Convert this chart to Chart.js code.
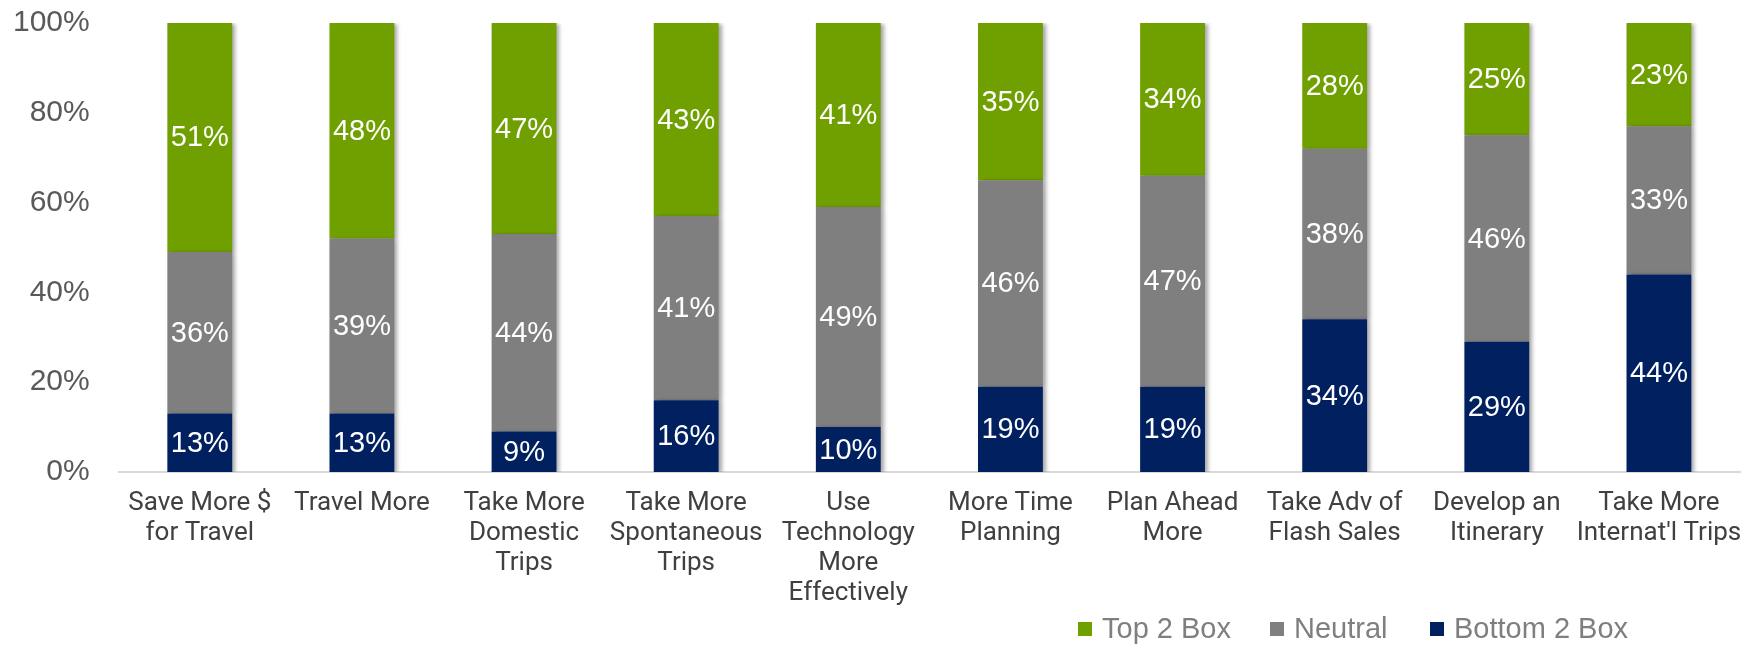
<!DOCTYPE html>
<html>
<head>
<meta charset="utf-8">
<title>Travel intentions</title>
<script src="https://cdn.jsdelivr.net/npm/chart.js@4/dist/chart.umd.min.js"></script>
<style>
  body { margin: 0; background: #fff; }
  #wrap { position: relative; width: 1749px; height: 649px; }
  .item {
    position: absolute; top: 612px; display: flex; align-items: center;
    font: 29px "Liberation Sans", Arial, sans-serif; color: #7f7f7f;
  }
  .swatch { width: 14px; height: 14px; margin-right: 10px; }
</style>
</head>
<body>
<div id="wrap">
  <canvas id="chart"></canvas>
</div>
<script>
const categories = [
  ['Save More $', 'for Travel'],
  ['Travel More'],
  ['Take More', 'Domestic', 'Trips'],
  ['Take More', 'Spontaneous', 'Trips'],
  ['Use', 'Technology', 'More', 'Effectively'],
  ['More Time', 'Planning'],
  ['Plan Ahead', 'More'],
  ['Take Adv of', 'Flash Sales'],
  ['Develop an', 'Itinerary'],
  ['Take More', "Internat'l Trips"],
];
const bottom2Box = [13, 13, 9, 16, 10, 19, 19, 34, 29, 44];
const neutral = [36, 39, 44, 41, 49, 46, 47, 38, 46, 33];
const top2Box = [51, 48, 47, 43, 41, 35, 34, 28, 25, 23];
const yTicks = [0, 20, 40, 60, 80, 100];

const datasets = [
  { label: 'Bottom 2 Box', data: bottom2Box, backgroundColor: '#002060' },
  { label: 'Neutral', data: neutral, backgroundColor: '#7f7f7f' },
  { label: 'Top 2 Box', data: top2Box, backgroundColor: '#70a000' },
];
// legend left edges, in legend order (top to bottom of the stack)
const legendLeft = [1078, 1270, 1430];

// white value labels centred in each segment
const valueLabels = {
  id: 'valueLabels',
  afterDatasetsDraw(chart) {
    const ctx = chart.ctx;
    ctx.save();
    ctx.fillStyle = '#ffffff';
    ctx.font = '29px "Liberation Sans", Arial, sans-serif';
    ctx.textAlign = 'center';
    ctx.textBaseline = 'middle';
    chart.data.datasets.forEach((ds, i) => {
      chart.getDatasetMeta(i).data.forEach((bar, j) => {
        const mid = (bar.y + bar.base) / 2;
        ctx.fillText(ds.data[j] + '%', bar.x, mid + 1);
      });
    });
    ctx.restore();
  },
};

// soft shadow to the right of the bars
const barShadow = {
  id: 'barShadow',
  beforeDatasetsDraw(chart) {
    const ctx = chart.ctx;
    ctx.save();
    ctx.shadowColor = 'rgba(0,0,0,0.35)';
    ctx.shadowBlur = 4;
    ctx.shadowOffsetX = 3;
    ctx.shadowOffsetY = 1;
  },
  afterDatasetsDraw(chart) {
    chart.ctx.restore();
  },
};

const chart = new Chart(document.getElementById('chart'), {
  type: 'bar',
  data: { labels: categories, datasets },
  options: {
    responsive: true,
    maintainAspectRatio: false,
    animation: false,
    layout: { padding: { top: 23, left: -16, right: 9, bottom: 23 } },
    datasets: { bar: { barPercentage: 0.8, categoryPercentage: 0.5 } },
    plugins: {
      legend: { display: false },
      tooltip: { enabled: false },
    },
    scales: {
      x: {
        stacked: true,
        grid: { display: false, drawTicks: false },
        border: { display: true, color: '#d9d9d9', width: 2 },
        afterFit(axis) {
          // let the last label run into the right margin
          axis.paddingRight = 0;
        },
        ticks: {
          maxRotation: 0,
          minRotation: 0,
          autoSkip: false,
          padding: 17,
          color: '#404040',
          font: { family: 'Roboto, "Liberation Sans", Arial, sans-serif', size: 26, lineHeight: 1.154 },
        },
      },
      y: {
        stacked: true,
        min: 0,
        max: 100,
        grid: { display: false, drawTicks: false },
        border: { display: false },
        afterBuildTicks(axis) {
          axis.ticks = yTicks.map((v) => ({ value: v }));
        },
        afterFit(axis) {
          // the tick padding is only meant to be horizontal
          axis.paddingTop = 0;
          axis.paddingBottom = 0;
        },
        ticks: {
          padding: 29,
          color: '#595959',
          font: { family: '"Liberation Sans", Arial, sans-serif', size: 30 },
          callback: (v) => v + '%',
        },
      },
    },
  },
  plugins: [barShadow, valueLabels],
});

const wrap = document.getElementById('wrap');
datasets.slice().reverse().forEach((ds, i) => {
  const item = document.createElement('div');
  item.className = 'item';
  item.style.left = legendLeft[i] + 'px';
  const sw = document.createElement('span');
  sw.className = 'swatch';
  sw.style.background = ds.backgroundColor;
  const txt = document.createElement('span');
  txt.textContent = ds.label;
  item.appendChild(sw);
  item.appendChild(txt);
  wrap.appendChild(item);
});
</script>
</body>
</html>
